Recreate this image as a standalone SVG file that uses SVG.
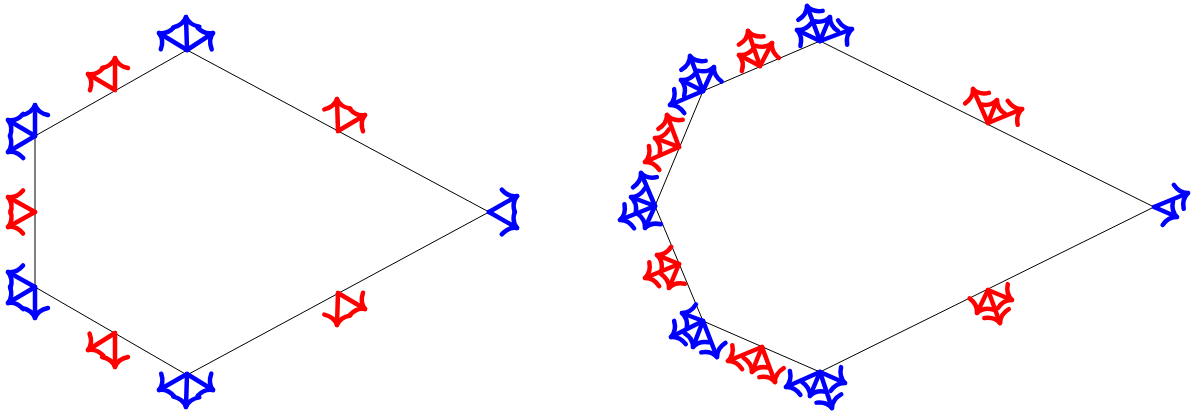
<svg xmlns="http://www.w3.org/2000/svg" width="1194" height="411" viewBox="0 0 1194 411">
<style>
.e{stroke:#000;stroke-width:1;fill:none}
.b,.r{stroke-width:4.5;stroke-linecap:round;fill:none}
.b{stroke:#00f;marker-end:url(#mb)}
.r{stroke:#f00;marker-end:url(#mr)}
</style>
<defs>
<marker id="mb" markerUnits="userSpaceOnUse" markerWidth="40" markerHeight="40" refX="0" refY="0" viewBox="-20 -20 40 40" orient="auto" overflow="visible"><path d="M-10 13Q-8 3 0 0Q-8 -3 -10 -13" fill="none" stroke="#00f" stroke-width="4.5" stroke-linecap="round" stroke-linejoin="round"/></marker>
<marker id="mr" markerUnits="userSpaceOnUse" markerWidth="40" markerHeight="40" refX="0" refY="0" viewBox="-20 -20 40 40" orient="auto" overflow="visible"><path d="M-10 13Q-8 3 0 0Q-8 -3 -10 -13" fill="none" stroke="#f00" stroke-width="4.5" stroke-linecap="round" stroke-linejoin="round"/></marker>
</defs>
<g id="connectors">
<path class="e" d="M187 50L35 136V287L187 375L489 212Z"/>
<path class="e" d="M820 41L703 91L655 206L703 321L820 372L1154 207Z"/>
</g>
<g id="L-top"><line class="b" x1="187" y1="50" x2="213" y2="33"/><line class="b" x1="187" y1="50" x2="186" y2="17"/><line class="b" x1="187" y1="50" x2="159" y2="33"/></g>
<g id="L-m1"><line class="r" x1="115" y1="90" x2="115" y2="58"/><line class="r" x1="115" y1="90" x2="88" y2="74"/></g>
<g id="L-ul"><line class="b" x1="35" y1="136" x2="35" y2="105"/><line class="b" x1="35" y1="136" x2="8" y2="120"/><line class="b" x1="35" y1="136" x2="8" y2="152"/></g>
<g id="L-m2"><line class="r" x1="35" y1="212" x2="8" y2="197"/><line class="r" x1="35" y1="212" x2="8" y2="227"/></g>
<g id="L-ll"><line class="b" x1="35" y1="287" x2="8" y2="272"/><line class="b" x1="35" y1="287" x2="8" y2="303"/><line class="b" x1="35" y1="287" x2="35" y2="318"/></g>
<g id="L-m3"><line class="r" x1="115" y1="333" x2="88" y2="350"/><line class="r" x1="115" y1="333" x2="115" y2="367"/></g>
<g id="L-bot"><line class="b" x1="187" y1="374" x2="159" y2="390"/><line class="b" x1="187" y1="374" x2="186" y2="407"/><line class="b" x1="187" y1="374" x2="213" y2="390"/></g>
<g id="L-m4"><line class="r" x1="338" y1="293" x2="365" y2="309"/><line class="r" x1="338" y1="293" x2="337" y2="325"/></g>
<g id="L-right"><line class="b" x1="489" y1="212" x2="517" y2="196"/><line class="b" x1="489" y1="212" x2="517" y2="228"/></g>
<g id="L-m5"><line class="r" x1="338" y1="131" x2="337" y2="99"/><line class="r" x1="338" y1="131" x2="365" y2="115"/></g>
<g id="R-top"><line class="b" x1="820" y1="41" x2="852" y2="29"/><line class="b" x1="820" y1="41" x2="830" y2="17"/><line class="b" x1="820" y1="41" x2="807" y2="6"/><line class="b" x1="820" y1="41" x2="797" y2="30"/></g>
<g id="R-m1"><line class="r" x1="760" y1="66" x2="748" y2="31"/><line class="r" x1="760" y1="66" x2="772" y2="43"/><line class="r" x1="760" y1="66" x2="739" y2="55"/></g>
<g id="R-v2"><line class="b" x1="703" y1="91" x2="690" y2="56"/><line class="b" x1="703" y1="91" x2="714" y2="67"/><line class="b" x1="703" y1="91" x2="681" y2="80"/><line class="b" x1="703" y1="91" x2="670" y2="105"/></g>
<g id="R-m2"><line class="r" x1="679" y1="147" x2="667" y2="115"/><line class="r" x1="679" y1="147" x2="655" y2="138"/><line class="r" x1="679" y1="147" x2="645" y2="162"/></g>
<g id="R-v3"><line class="b" x1="655" y1="206" x2="641" y2="173"/><line class="b" x1="655" y1="206" x2="631" y2="197"/><line class="b" x1="655" y1="206" x2="620" y2="220"/><line class="b" x1="655" y1="206" x2="645" y2="228"/></g>
<g id="R-m3"><line class="r" x1="679" y1="264" x2="657" y2="255"/><line class="r" x1="679" y1="264" x2="645" y2="278"/><line class="r" x1="679" y1="264" x2="669" y2="288"/></g>
<g id="R-v4"><line class="b" x1="703" y1="321" x2="682" y2="313"/><line class="b" x1="703" y1="321" x2="671" y2="337"/><line class="b" x1="703" y1="321" x2="693" y2="347"/><line class="b" x1="703" y1="321" x2="717" y2="357"/></g>
<g id="R-m4"><line class="r" x1="762" y1="347" x2="728" y2="361"/><line class="r" x1="762" y1="347" x2="752" y2="372"/><line class="r" x1="762" y1="347" x2="775" y2="382"/></g>
<g id="R-bot"><line class="b" x1="820" y1="372" x2="786" y2="387"/><line class="b" x1="820" y1="372" x2="810" y2="396"/><line class="b" x1="820" y1="372" x2="832" y2="408"/><line class="b" x1="820" y1="372" x2="845" y2="383"/></g>
<g id="R-m5"><line class="r" x1="988" y1="123" x2="973" y2="89"/><line class="r" x1="988" y1="123" x2="997" y2="100"/><line class="r" x1="988" y1="123" x2="1022" y2="109"/></g>
<g id="R-m6"><line class="r" x1="988" y1="290" x2="977" y2="313"/><line class="r" x1="988" y1="290" x2="1000" y2="323"/><line class="r" x1="988" y1="290" x2="1012" y2="300"/></g>
<g id="R-right"><line class="b" x1="1154" y1="207" x2="1188" y2="193"/><line class="b" x1="1154" y1="207" x2="1177" y2="217"/></g>
</svg>
